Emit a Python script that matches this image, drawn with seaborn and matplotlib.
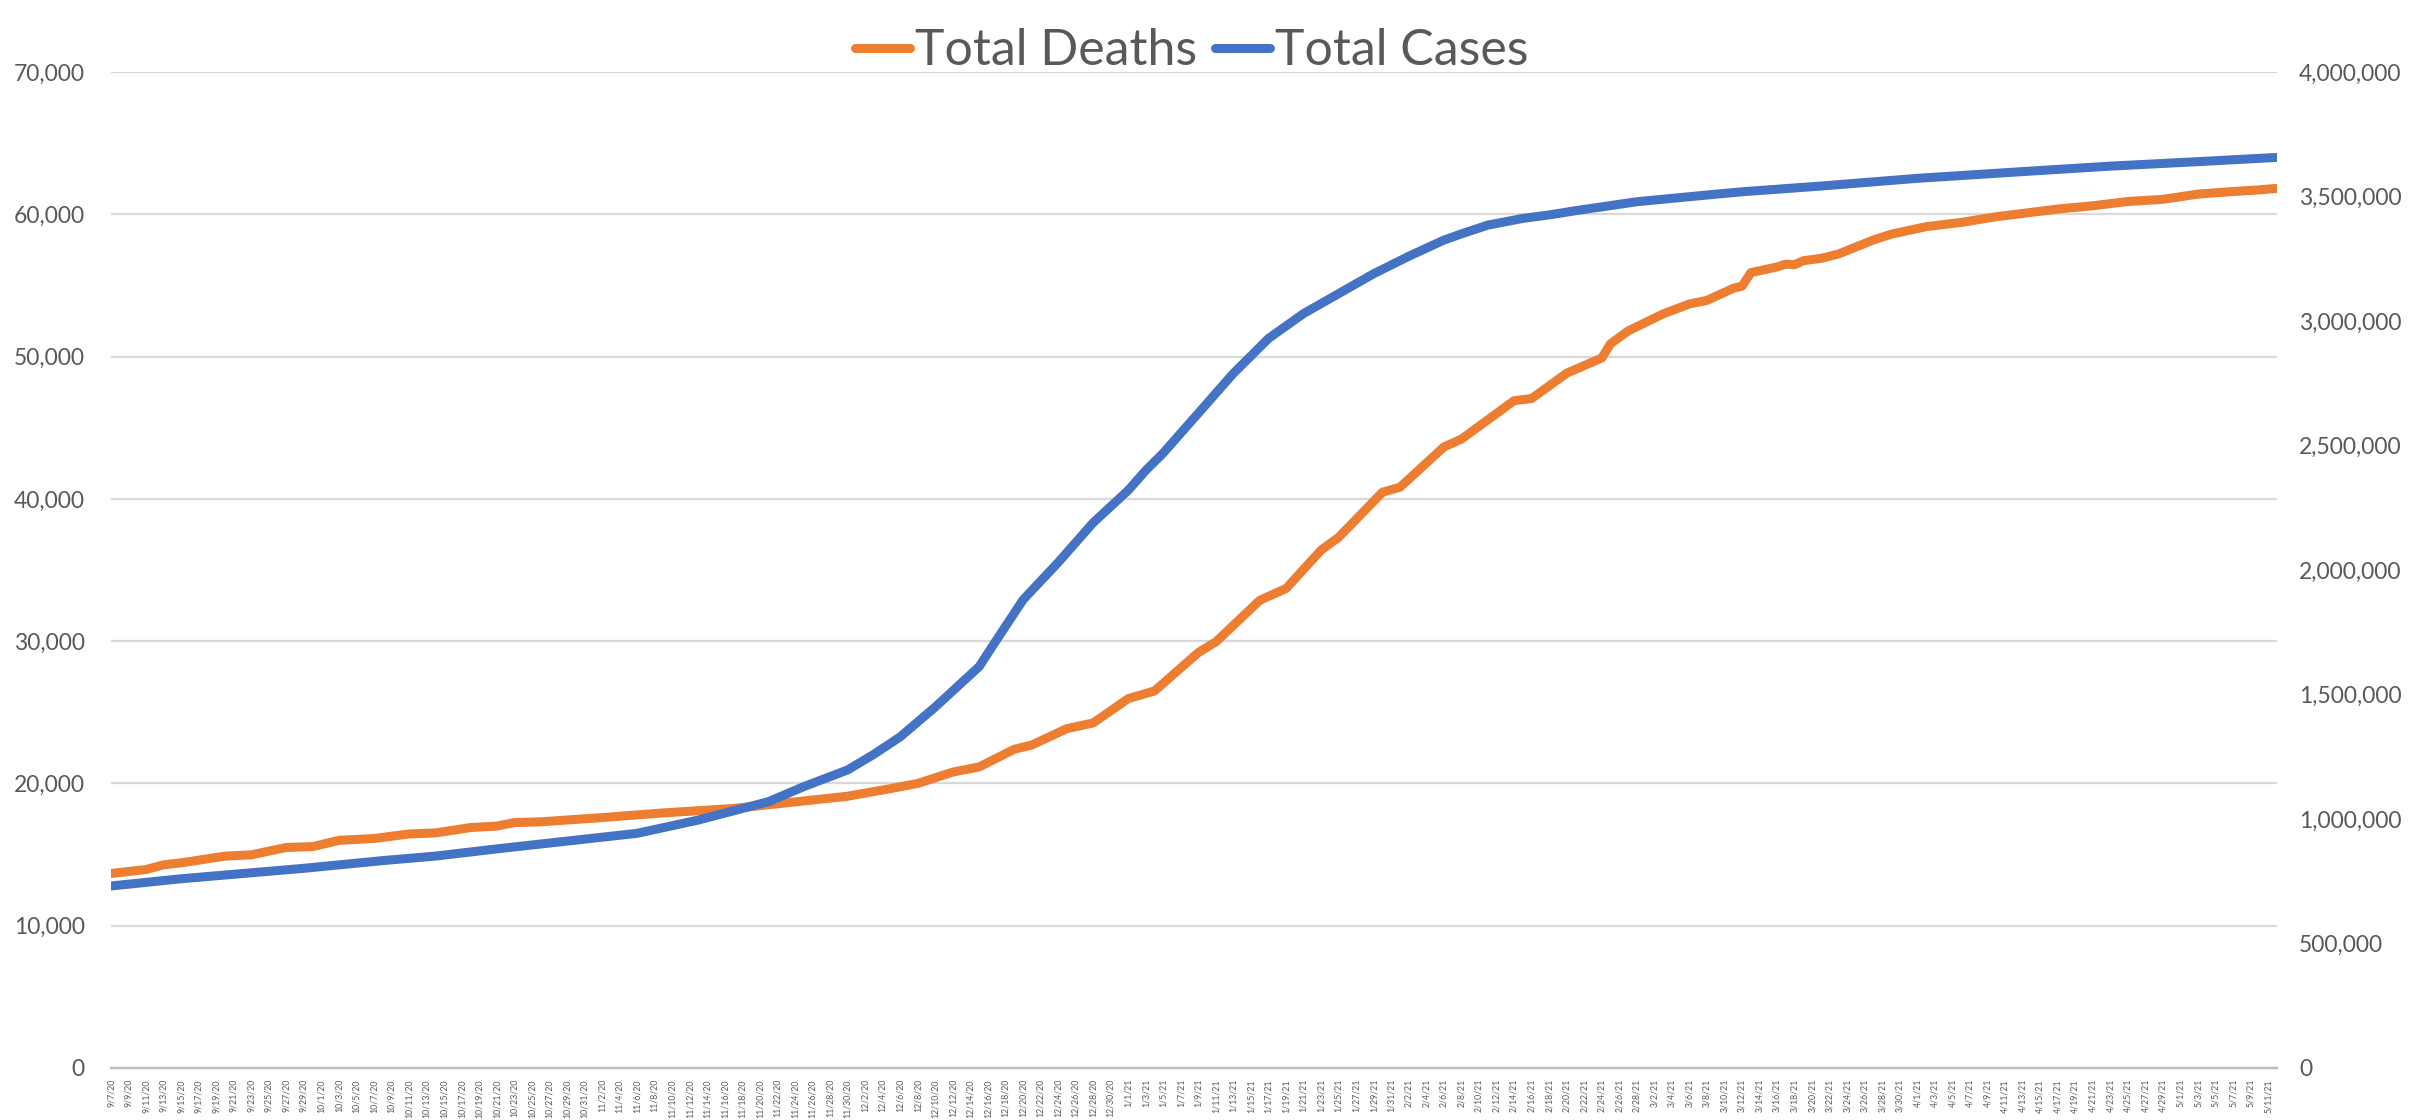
import matplotlib
matplotlib.use("Agg")
import matplotlib.pyplot as plt
from matplotlib.lines import Line2D
import seaborn as sns
import pandas as pd

# ---------------- data ----------------
start_date = "2020-09-07"
end_date = "2021-05-12"

# day offsets from start_date and cumulative totals
death_days = [0, 4, 6, 8, 13, 16, 20, 23, 26, 30, 34, 37, 41, 44, 46, 49, 56, 63,
              71, 78, 84, 89, 92, 96, 99, 103, 105, 109, 112, 116, 119, 124, 126,
              131, 134, 138, 140, 145, 147, 152, 154, 160, 162, 166, 170, 171, 173,
              177, 180, 182, 185, 186, 187, 190, 191, 192, 193, 195, 197, 201, 203,
              207, 211, 215, 218, 222, 226, 230, 234, 238, 242, 245, 247]
deaths = [13670, 13950, 14280, 14420, 14890, 14980, 15500, 15560, 16000, 16130,
          16450, 16520, 16900, 17000, 17250, 17300, 17600, 17930, 18240, 18700,
          19100, 19650, 20000, 20800, 21160, 22400, 22700, 23850, 24250, 25960,
          26500, 29200, 29950, 32870, 33700, 36400, 37300, 40470, 40820, 43650,
          44200, 46900, 47050, 48830, 49900, 50900, 51800, 53000, 53700, 53950,
          54800, 54950, 55900, 56300, 56500, 56460, 56740, 56900, 57210, 58200,
          58600, 59130, 59430, 59830, 60060, 60370, 60600, 60900, 61050, 61420,
          61600, 61720, 61820]

case_days = [0, 8, 22, 31, 37, 44, 60, 67, 75, 79, 84, 87, 90, 94, 99, 101, 104,
             108, 112, 116, 118, 120, 124, 128, 132, 136, 140, 144, 148, 152, 154,
             157, 161, 164, 167, 174, 182, 186, 195, 206, 218, 228, 238, 247]
cases = [731000, 760000, 802000, 833000, 851000, 880000, 942500, 996000, 1070000,
         1130000, 1197000, 1260000, 1330000, 1450000, 1612000, 1720000, 1880000,
         2030000, 2190000, 2320000, 2400000, 2470000, 2630000, 2790000, 2930000,
         3030000, 3110000, 3190000, 3260000, 3325000, 3350000, 3385000, 3412000,
         3426000, 3443000, 3479000, 3506000, 3519000, 3542000, 3573000, 3600000,
         3622000, 3640000, 3657000]

series_names = ["Total Deaths", "Total Cases"]
left_ticks = [0, 10000, 20000, 30000, 40000, 50000, 60000, 70000]
right_ticks = [0, 500000, 1000000, 1500000, 2000000, 2500000, 3000000, 3500000, 4000000]

# ---------------- build frames ----------------
t0 = pd.Timestamp(start_date)
df_deaths = pd.DataFrame({"date": [t0 + pd.Timedelta(days=d) for d in death_days],
                          "value": deaths})
df_cases = pd.DataFrame({"date": [t0 + pd.Timedelta(days=d) for d in case_days],
                         "value": cases})

ORANGE = "#ED7D31"
BLUE = "#4472C4"
TXT = "#595959"
GRID = "#D9D9D9"
AXIS = "#BFBFBF"

sns.set_theme(style="white")
plt.rcParams["font.family"] = ["Lato", "DejaVu Sans"]

fig = plt.figure(figsize=(24.12, 11.2), dpi=100)
ax = fig.add_axes([111 / 2412, 1 - 1068 / 1120, (2277 - 111) / 2412, (1068 - 72) / 1120])
ax2 = ax.twinx()

sns.lineplot(data=df_deaths, x="date", y="value", ax=ax, color=ORANGE,
             linewidth=6.5, solid_capstyle="round", solid_joinstyle="round", zorder=3)
sns.lineplot(data=df_cases, x="date", y="value", ax=ax2, color=BLUE,
             linewidth=6.5, solid_capstyle="round", solid_joinstyle="round", zorder=3)

# axes limits
ax.set_xlim(pd.Timestamp(start_date), pd.Timestamp(end_date))
ax.set_ylim(0, 70000)
ax2.set_ylim(0, 4000000)

# y ticks
ax.set_yticks(left_ticks)
ax.set_yticklabels([f"{v:,}" for v in left_ticks])
ax2.set_yticks(right_ticks)
ax2.set_yticklabels([f"{v:,}" for v in right_ticks])
ax.yaxis.grid(True, color=GRID, linewidth=1.6)
ax.xaxis.grid(False)
ax2.grid(False)
ax.set_axisbelow(True)
ax.tick_params(axis="y", length=0, labelsize=16.5, labelcolor=TXT, pad=19)
ax2.tick_params(axis="y", length=0, labelsize=16.5, labelcolor=TXT, pad=16)

# x ticks every two days
tick_dates = pd.date_range(start_date, end_date, freq="2D")
ax.set_xticks(tick_dates)
ax.set_xticklabels([f"{d.month}/{d.day}/{d.year % 100}" for d in tick_dates],
                   rotation=90, fontsize=6.3, color=TXT)
ax.tick_params(axis="x", length=5, width=1.2, color=AXIS, pad=3)

ax.set_xlabel("")
ax.set_ylabel("")
ax2.set_ylabel("")

for a in (ax, ax2):
    for s in ("left", "right", "top"):
        a.spines[s].set_visible(False)
    a.spines["bottom"].set_color(AXIS)
    a.spines["bottom"].set_linewidth(1.6)

# legend
handles = [Line2D([0], [0], color=ORANGE, linewidth=6.5, solid_capstyle="round"),
           Line2D([0], [0], color=BLUE, linewidth=6.5, solid_capstyle="round")]
fig.legend(handles, series_names, loc="upper center", bbox_to_anchor=(0.494, 1.015),
           ncol=2, frameon=False, fontsize=36, handlelength=1.1, handletextpad=0.1,
           columnspacing=0.35, labelcolor=TXT)

fig.savefig("out.png", dpi=100, facecolor="white")
